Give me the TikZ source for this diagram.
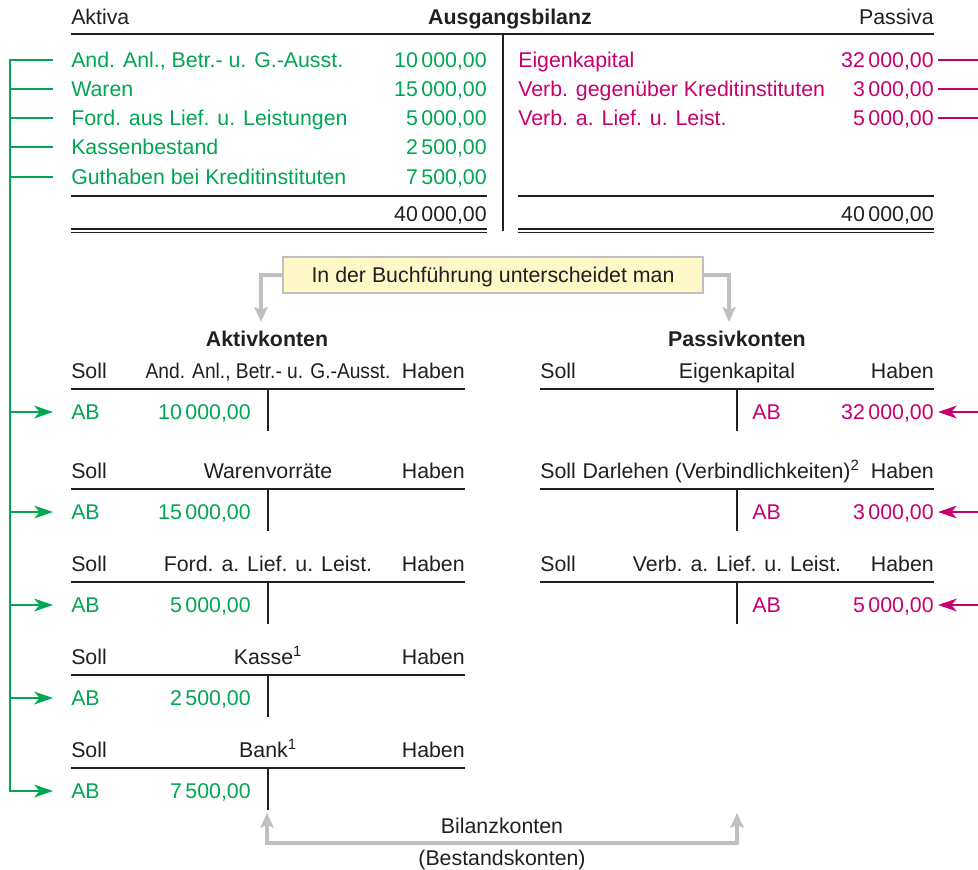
\documentclass[tikz,border=0pt]{standalone}
\usepackage{fontspec}
\usepackage{graphicx}
\setmainfont{Liberation Sans}
\usetikzlibrary{arrows.meta}
\definecolor{aktgreen}{RGB}{0,166,81}
\definecolor{pasmagenta}{RGB}{200,0,110}
\definecolor{hintgray}{RGB}{190,192,194}
\definecolor{hintyellow}{RGB}{255,249,200}
\definecolor{inkblack}{RGB}{35,31,32}

\tikzset{
  ktip/.tip={Stealth[length=14pt,width=9.5pt,inset=4pt]},
  hinttip/.tip={Stealth[length=11pt,width=10pt,inset=2pt]}
}

\begin{document}
\begin{tikzpicture}[x=0.75pt,y=-0.75pt,
  txt/.style={inner sep=0pt,text height=11.4pt,text depth=0pt,text=inkblack,
    font=\fontsize{16}{19}\selectfont},
  bold/.style={font=\fontsize{16}{19}\selectfont\bfseries},
  akt/.style={txt,text=aktgreen},
  pas/.style={txt,text=pasmagenta},
  rule/.style={line width=1.9pt,inkblack},
  thinrule/.style={line width=0.9pt,inkblack},
  tline/.style={line width=2.2pt,inkblack},
  gline/.style={line width=1.9pt,aktgreen},
  mline/.style={line width=1.9pt,pasmagenta},
  garrow/.style={gline,-ktip},
  marrow/.style={mline,-ktip},
  hintline/.style={line width=2.4pt,hintgray},
  hintbox/.style={txt,draw=hintgray,line width=1.8pt,fill=hintyellow,
    minimum width=315pt,minimum height=27pt}]

\useasboundingbox (0,0) rectangle (978,869);

% Ausgangsbilanz
\node [txt,anchor=west] (aktiva) at (71,17) {Aktiva};
\node [txt,bold] (bilanz) at (510,17) {Ausgangsbilanz};
\node [txt,anchor=east] (passiva) at (934,17) {Passiva};
\draw [rule] (71,34) -- (934,34);
\draw [rule] (503,34) -- (503,231);

\foreach \i/\y/\name/\amt in {1/60/{And. Anl., Betr.- u. G.-Ausst.}/{10\,000,00},
    2/89/Waren/{15\,000,00}, 3/118/{Ford. aus Lief. u. Leistungen}/{5\,000,00},
    4/147/Kassenbestand/{2\,500,00}, 5/177/{Guthaben bei Kreditinstituten}/{7\,500,00}}{
  \node [akt,anchor=west] (a\i) at (71,\y) {\name};
  \node [akt,anchor=east] (av\i) at (487,\y) {\amt};
  \coordinate (ga\i) at (10,\y);
  \draw [gline,shorten >=13.5pt] (ga\i) -- (a\i.west);
}

\foreach \i/\y/\name/\amt in {1/60/Eigenkapital/{32\,000,00},
    2/89/{Verb. gegenüber Kreditinstituten}/{3\,000,00},
    3/118/{Verb. a. Lief. u. Leist.}/{5\,000,00}}{
  \node [pas,anchor=west] (p\i) at (518,\y) {\name};
  \node [pas,anchor=east] (pv\i) at (934,\y) {\amt};
  \coordinate (gp\i) at (978,\y);
  \draw [mline,shorten <=3pt] (pv\i.east) -- (gp\i);
}

% sums
\draw [thinrule] (71,196) -- (487,196) (518,196) -- (934,196);
\node [txt,anchor=east] (sumA) at (487,214) {40\,000,00};
\node [txt,anchor=east] (sumP) at (934,214) {40\,000,00};
\draw [thinrule] (71,229) -- (487,229) (71,232.5) -- (487,232.5);
\draw [thinrule] (518,229) -- (934,229) (518,232.5) -- (934,232.5);

% hint
\node [hintbox] (hint) at (493,275) {In der Buchführung unterscheidet man};
\node [txt,bold] (aktk) at (267,339) {Aktivkonten};
\node [txt,bold] (pask) at (737,339) {Passivkonten};
\draw [hintline,-hinttip,shorten >=7pt] (hint.west) -| ([xshift=-4.5pt]aktk.north);
\draw [hintline,-hinttip,shorten >=7pt] (hint.east) -| ([xshift=-6pt]pask.north);

% Aktivkonten
\foreach \i/\L/\title/\amt in {1/389/{\scalebox{0.9}[1]{And. Anl., Betr.- u. G.-Ausst.}}/{10\,000,00},
    2/489/Warenvorräte/{15\,000,00}, 3/582/{Ford. a. Lief. u. Leist.}/{5\,000,00},
    4/675/{Kasse\textsuperscript{1}}/{2\,500,00}, 5/768/{Bank\textsuperscript{1}}/{7\,500,00}}{
  \node [txt,anchor=west] (ls\i) at (71,\L-18) {Soll};
  \node [txt] (lt\i) at (268,\L-18) {\title};
  \node [txt,anchor=east] (lh\i) at (465,\L-18) {Haben};
  \draw [tline] (71,\L) -- (465,\L);
  \draw [tline] (268,\L) -- (268,\L+42);
  \node [akt,anchor=west] (lab\i) at (71,\L+23) {AB};
  \node [akt,anchor=east] (lamt\i) at (251,\L+23) {\amt};
  \coordinate (gb\i) at (10,\L+23);
  \draw [garrow,shorten >=13.5pt] (gb\i) -- (lab\i.west);
}
\draw [gline,line cap=rect] (ga1) -- (gb5);

% Passivkonten
\foreach \i/\L/\tx/\title/\amt in {1/389/737/Eigenkapital/{32\,000,00},
    2/489/721/{Darlehen (Verbindlichkeiten)\textsuperscript{2}}/{3\,000,00},
    3/582/737/{Verb. a. Lief. u. Leist.}/{5\,000,00}}{
  \node [txt,anchor=west] (rs\i) at (540,\L-18) {Soll};
  \node [txt] (rt\i) at (\tx,\L-18) {\title};
  \node [txt,anchor=east] (rh\i) at (934,\L-18) {Haben};
  \draw [tline] (540,\L) -- (934,\L);
  \draw [tline] (737,\L) -- (737,\L+42);
  \node [pas,anchor=west] (rab\i) at (752,\L+23) {AB};
  \node [pas,anchor=east] (ramt\i) at (934,\L+23) {\amt};
  \coordinate (gr\i) at (978,\L+23);
  \draw [marrow,shorten >=3pt] (gr\i) -- (ramt\i.east);
}

% Bilanzkonten
\coordinate (bl) at (267,813);
\coordinate (br) at (737,813);
\node [txt] (bil) at (502,826) {Bilanzkonten};
\node [txt] (best) at (502,858) {(Bestandskonten)};
\draw [hintline,hinttip-hinttip] (bl) -- ++(0,30) -| (br);

\end{tikzpicture}
\end{document}
